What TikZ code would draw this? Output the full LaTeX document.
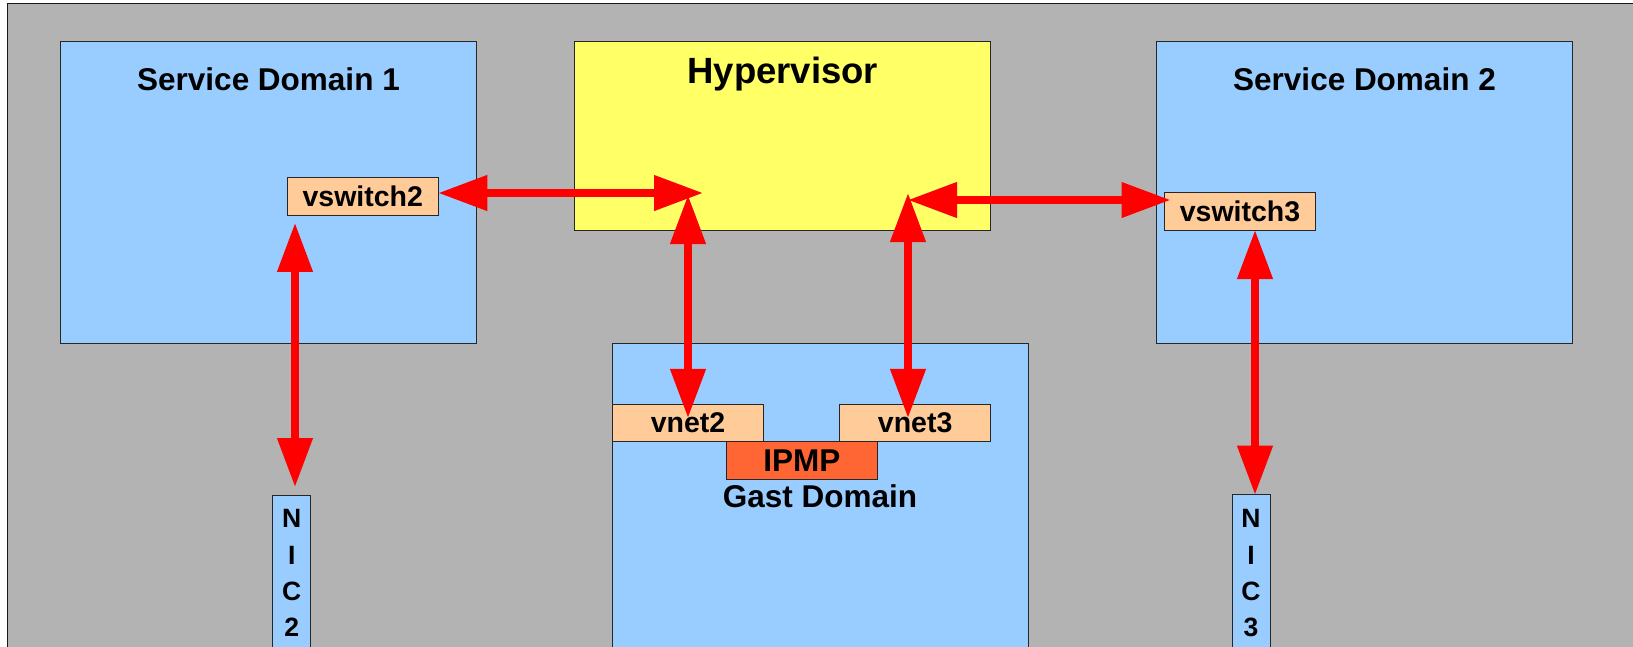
\documentclass[tikz,border=0pt]{standalone}
\usepackage{fontspec}
\setmainfont{Liberation Sans}
\usetikzlibrary{arrows.meta}

\definecolor{framegray}{HTML}{B3B3B3}
\definecolor{domblue}{HTML}{99CCFF}
\definecolor{hypyellow}{HTML}{FFFF66}
\definecolor{portpeach}{HTML}{FFCC99}
\definecolor{ipmporange}{HTML}{FF6633}

\begin{document}
\begin{tikzpicture}[x=1pt,y=-1pt,
  dombox/.style={draw=black!85, line width=1pt, fill=domblue, rectangle,
    inner sep=0pt, outer sep=0pt, anchor=north west},
  hypbox/.style={dombox, fill=hypyellow},
  boxtitle/.style={anchor=base, inner sep=0pt, font=\fontsize{31.5}{36}\selectfont\bfseries},
  portbox/.style={draw=black!85, line width=0.9pt, fill=portpeach, rectangle,
    minimum width=151pt, minimum height=37.5pt, inner sep=0pt, outer sep=0pt,
    font=\fontsize{28.5}{34}\selectfont\bfseries},
  ipmpbox/.style={portbox, fill=ipmporange, font=\fontsize{31.5}{36}\selectfont\bfseries},
  nicbox/.style={draw=black!85, line width=1pt, fill=domblue, rectangle, anchor=north,
    minimum width=38pt, minimum height=180pt, inner sep=0pt, outer sep=0pt},
  nicletter/.style={anchor=base, inner sep=0pt, font=\fontsize{26.5}{30}\selectfont\bfseries},
  netlink/.style={draw=red, line width=7.5pt,
    {Triangle[length=49pt,width=34pt]}-{Triangle[length=49pt,width=34pt]}}
]
\useasboundingbox (0,0) rectangle (1633,646);
\clip (0,0) rectangle (1633,646);

% outer frame
\draw[fill=framegray, draw=black!90, line width=1.3pt] (7.5,3.5) rectangle (1660,680);

% domains
\node[dombox, minimum width=416pt, minimum height=302pt] (sd1) at (60.5,41.3) {};
\node[hypbox, minimum width=416pt, minimum height=188.7pt] (hyp) at (574.7,41.3) {};
\node[dombox, minimum width=416pt, minimum height=302pt] (sd2) at (1156.5,41.3) {};
\node[dombox, minimum width=416pt, minimum height=340pt] (gd) at (612.4,343.3) {};

% titles
\node[boxtitle] (sd1title) at (268.5,90) {Service Domain 1};
\node[boxtitle, font=\fontsize{36.5}{42}\selectfont\bfseries] (hyptitle) at (782.7,83.3) {Hypervisor};
\node[boxtitle] (sd2title) at (1364.5,90) {Service Domain 2};
\node[boxtitle] (gdtitle) at (820,507.5) {Gast Domain};

% virtual switches and network devices
\node[portbox] (vs2) at (362.8,196.2) {vswitch2};
\node[portbox] (vs3) at (1240,211.3) {vswitch3};
\node[portbox] (vn2) at (688,422.7) {vnet2};
\node[portbox] (vn3) at (915.2,422.7) {vnet3};
\node[ipmpbox] (ipmp) at (801.8,460.3) {IPMP};

% physical NICs
\node[nicbox] (nic2) at (291.7,495) {};
\node[nicbox] (nic3) at (1251,494.7) {};
\foreach \l [count=\i] in {N,I,C,2}
  \node[nicletter] (nicA\i) at (291.7,{527.7+36.3*(\i-1)}) {\l};
\foreach \l [count=\i] in {N,I,C,3}
  \node[nicletter] (nicB\i) at (1251,{527.7+36.3*(\i-1)}) {\l};

% attachment points inside the hypervisor
\coordinate (hypL) at (703,193);
\coordinate (hypLv) at (688,195);
\coordinate (hypR) at (908,200);
\coordinate (hypRv) at (908,193);
\coordinate (vs3in) at (1170.5,200);

% links
\draw[netlink] (vs2.east |- hypL) -- (hypL);
\draw[netlink] (hypLv) -- ([yshift=-14pt]vn2.north);
\draw[netlink] (hypR) -- (vs3in);
\draw[netlink] (hypRv) -- ([xshift=-7.2pt,yshift=-14pt]vn3.north);
\draw[netlink] ([xshift=-67.8pt,yshift=-8pt]vs2.south) -- ([xshift=3.3pt,yshift=8pt]nic2.north);
\draw[netlink] ([xshift=15pt]vs3.south) -- ([xshift=4pt]nic3.north);
\end{tikzpicture}
\end{document}
